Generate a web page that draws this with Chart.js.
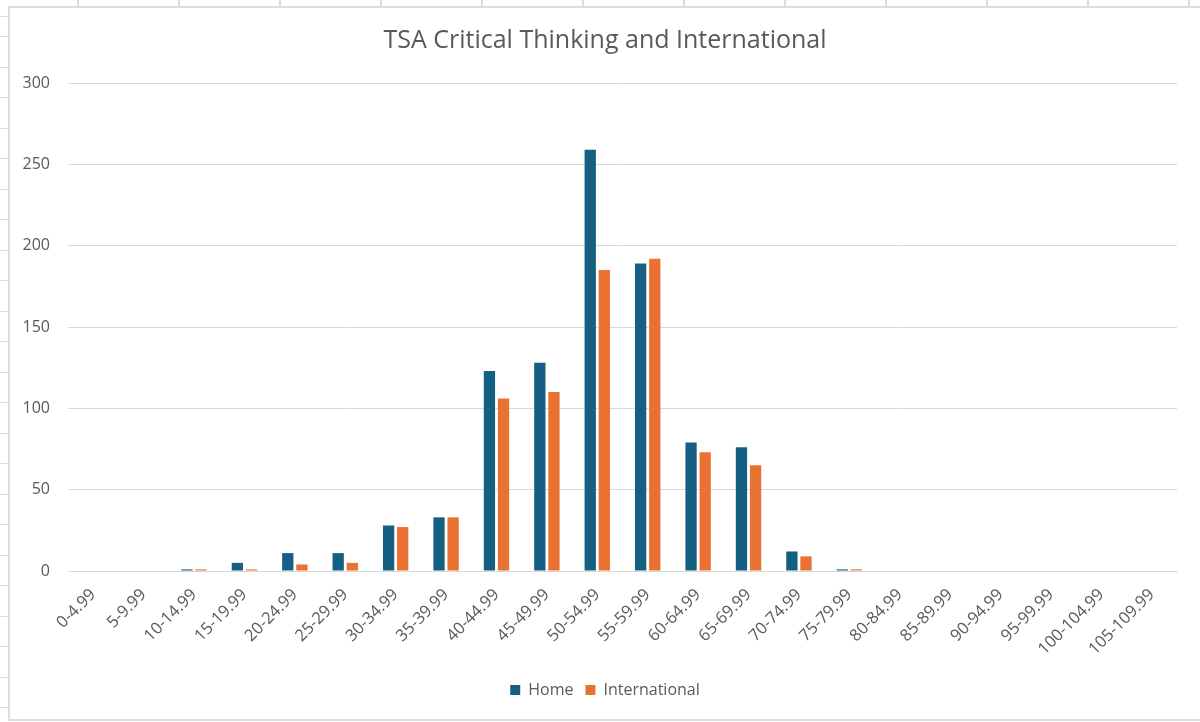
<!DOCTYPE html>
<html>
<head>
<meta charset="utf-8">
<script src="https://cdn.jsdelivr.net/npm/chart.js@4.4.1/dist/chart.umd.min.js"></script>
<style>
  html, body { margin: 0; padding: 0; background: #fff; }
  body { width: 1200px; height: 722px; position: relative; overflow: hidden; }
  .topstrip { position: absolute; left: 0; top: 0; width: 1200px; height: 6px;
    background: repeating-linear-gradient(to right, transparent 0, transparent 76px, #dcdcdc 76px, #dcdcdc 78px, transparent 78px, transparent 101px);
    background-position: 1px 0; }
  .leftstrip { position: absolute; left: 0; top: 0; width: 9px; height: 722px;
    background: repeating-linear-gradient(to bottom, transparent 0, transparent 5px, #dcdcdc 5px, #dcdcdc 6px, transparent 6px, transparent 30.5px);
    background-position: 0 31px; }
  .box { position: absolute; left: 8px; top: 6px; width: 1200px; height: 715px;
    border-left: 2px solid #dedede; border-top: 2px solid #dedede; border-bottom: 2px solid #dedede; background: #fff; box-sizing: border-box; }
  #wrap { position: absolute; left: 10px; top: 8px; width: 1190px; height: 712px; }
</style>
</head>
<body>
<div class="topstrip"></div>
<div class="leftstrip"></div>
<div class="box"></div>
<div id="wrap"><canvas id="c"></canvas></div>
<script>
const categories = ["0-4.99","5-9.99","10-14.99","15-19.99","20-24.99","25-29.99","30-34.99","35-39.99","40-44.99","45-49.99","50-54.99","55-59.99","60-64.99","65-69.99","70-74.99","75-79.99","80-84.99","85-89.99","90-94.99","95-99.99","100-104.99","105-109.99"];
const homeValues = [0,0,1,5,11,11,28,33,123,128,259,189,79,76,12,1,0,0,0,0,0,0];
const internationalValues = [0,0,1,1,4,5,27,33,106,110,185,192,73,65,9,1,0,0,0,0,0,0];
const yTicks = [0,50,100,150,200,250,300];

const grey = '#595959';
const font = "'Open Sans', 'Liberation Sans', sans-serif";

new Chart(document.getElementById('c'), {
  type: 'bar',
  data: {
    labels: categories,
    datasets: [
      { label: 'Home', data: homeValues, backgroundColor: '#156082', borderWidth: 0,
        categoryPercentage: 0.56, barPercentage: 0.8 },
      { label: 'International', data: internationalValues, backgroundColor: '#E97132', borderWidth: 0,
        categoryPercentage: 0.56, barPercentage: 0.8 }
    ]
  },
  options: {
    responsive: true,
    maintainAspectRatio: false,
    animation: false,
    layout: { padding: { left: 10, right: 10, top: 10, bottom: 12 } },
    plugins: {
      title: { display: true, text: 'TSA Critical Thinking and International', color: grey,
        font: { family: font, size: 25, weight: 'normal' }, padding: { top: 8, bottom: 27 } },
      legend: { position: 'bottom', labels: { color: grey, font: { family: font, size: 16 }, boxWidth: 10, boxHeight: 10, padding: 12 } },
      tooltip: { enabled: false }
    },
    scales: {
      x: {
        grid: { display: false, drawTicks: false },
        border: { display: true, color: '#d9d9d9', width: 1 },
        ticks: { color: grey, font: { family: font, size: 16.5 }, maxRotation: 45, minRotation: 45, autoSkip: false, padding: 14 },
        afterFit: (s) => { s.height = 99; }
      },
      y: {
        min: 0, max: 300,
        afterBuildTicks: (s) => { s.ticks = yTicks.map(v => ({ value: v })); },
        grid: { color: '#d9d9d9', drawTicks: false },
        border: { display: false },
        ticks: { color: grey, font: { family: font, size: 16 }, padding: 18 },
        afterFit: (s) => { s.width = 48; }
      },
      spacer: {
        type: 'linear', position: 'right', display: true,
        grid: { display: false, drawTicks: false },
        border: { display: false },
        ticks: { display: false },
        afterFit: (s) => { s.width = 13; }
      }
    }
  }
});
</script>
</body>
</html>
